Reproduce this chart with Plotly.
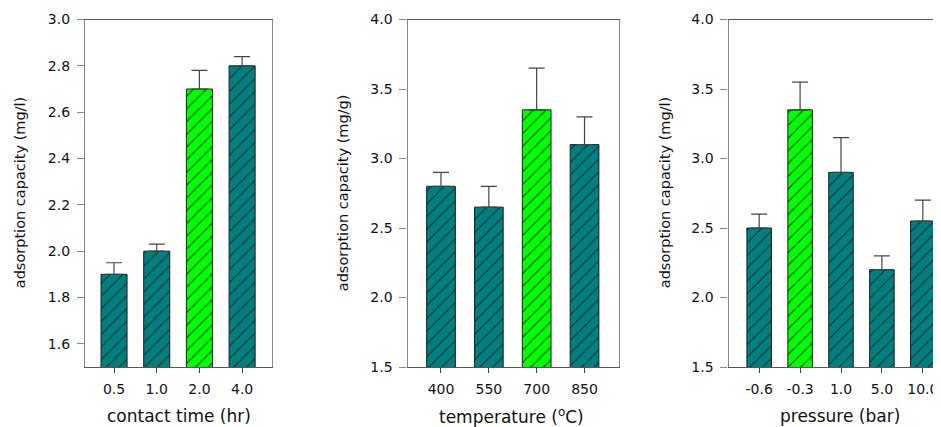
import plotly.graph_objects as go

# ---- data ----
time_labels = ["0.5", "1.0", "2.0", "4.0"]
time_values = [1.90, 2.00, 2.70, 2.80]
time_errors = [0.05, 0.03, 0.08, 0.04]
time_colors = ["#008080", "#008080", "#00ff00", "#008080"]

temp_labels = ["400", "550", "700", "850"]
temp_values = [2.80, 2.65, 3.35, 3.10]
temp_errors = [0.10, 0.15, 0.30, 0.20]
temp_colors = ["#008080", "#008080", "#00ff00", "#008080"]

pres_labels = ["-0.6", "-0.3", "1.0", "5.0", "10.0"]
pres_values = [2.50, 3.35, 2.90, 2.20, 2.55]
pres_errors = [0.10, 0.20, 0.25, 0.10, 0.15]
pres_colors = ["#008080", "#00ff00", "#008080", "#008080", "#008080"]

y1_ticks = [1.6, 1.8, 2.0, 2.2, 2.4, 2.6, 2.8, 3.0]
y23_ticks = [1.5, 2.0, 2.5, 3.0, 3.5, 4.0]

W, H = 941, 427
OFF = 8  # page body margin offset
FONT = "DejaVu Sans"

def px_x(v):
    return (v - OFF) / W

def px_y(v):
    return (H - (v - OFF)) / H

ydom = [px_y(367), px_y(19.5)]

fig = go.Figure()

def add_bars(labels, values, errors, colors, xa, ya, width):
    for lab, val, err, col in zip(labels, values, errors, colors):
        fig.add_trace(go.Bar(
            x=[lab], y=[val], xaxis=xa, yaxis=ya, width=width,
            marker=dict(color=col, line=dict(color="#1e1e1e", width=1),
                        pattern=dict(shape="/", fillmode="replace", bgcolor=col,
                                     fgcolor="#1a1a1a", fgopacity=0.8,
                                     size=9, solidity=0.13)),
            error_y=dict(type="data", array=[err], arrayminus=[0],
                         symmetric=False, color="#444444", thickness=1.2, width=8),
            showlegend=False,
        ))

add_bars(time_labels, time_values, time_errors, time_colors, "x", "y", 0.61)
add_bars(temp_labels, temp_values, temp_errors, temp_colors, "x2", "y2", 0.6)
add_bars(pres_labels, pres_values, pres_errors, pres_colors, "x3", "y3", 0.6)

tickfont = dict(family=FONT, size=14, color="#111111")

xcommon = dict(type="category", showgrid=False, zeroline=False, showline=True,
               linecolor="#555555", linewidth=1, ticks="outside", ticklen=5,
               tickcolor="#444444", tickfont=tickfont, ticklabelstandoff=4,
               mirror=True, fixedrange=True, automargin=False,
               categoryorder="array")
ycommon = dict(showgrid=False, zeroline=False, showline=True, linecolor="#888888",
               linewidth=1.2, ticks="outside", ticklen=7, tickcolor="#888888",
               tickfont=tickfont, tickformat=".1f", ticklabelstandoff=4,
               domain=ydom, fixedrange=True, automargin=False)

fig.update_layout(
    width=W, height=H, margin=dict(l=0, r=0, t=0, b=0, pad=0),
    plot_bgcolor="white", paper_bgcolor="white",
    font=dict(family=FONT, color="#111111"),
    barmode="overlay", showlegend=False,
    xaxis=dict(xcommon, domain=[px_x(85), px_x(272)], range=[-0.68, 3.7],
               categoryarray=time_labels, anchor="y"),
    yaxis=dict(ycommon, range=[1.5, 3.0], tickvals=y1_ticks, mirror=True, anchor="x"),
    xaxis2=dict(xcommon, domain=[px_x(407.5), px_x(618.5)], range=[-0.7, 3.71],
                categoryarray=temp_labels, anchor="y2"),
    yaxis2=dict(ycommon, range=[1.5, 4.0], tickvals=y23_ticks, mirror=True, anchor="x2"),
    xaxis3=dict(xcommon, domain=[px_x(728.5), 1.0], range=[-0.75, 4.64],
                categoryarray=pres_labels, anchor="y3"),
    yaxis3=dict(ycommon, range=[1.5, 4.0], tickvals=y23_ticks, mirror=False, anchor="x3"),
)

ymid = (ydom[0] + ydom[1]) / 2
ytitles = [(20, "adsorption capacity (mg/l)"),
           (343, "adsorption capacity (mg/g)"),
           (665, "adsorption capacity (mg/l)")]
for xp, txt in ytitles:
    fig.add_annotation(text=txt, xref="paper", yref="paper", x=px_x(xp), y=ymid,
                       xanchor="center", yanchor="middle", textangle=-90,
                       showarrow=False, font=dict(family=FONT, size=14.5, color="#111111"))

xt_y = px_y(416)
xtitles = [(178.5, "contact time (hr)"),
           (512, "temperature (<sup>o</sup>C)"),
           (840, "pressure (bar)")]
for xp, txt in xtitles:
    fig.add_annotation(text=txt, xref="paper", yref="paper", x=px_x(xp), y=xt_y,
                       xanchor="center", yanchor="middle", showarrow=False,
                       font=dict(family=FONT, size=17, color="#111111"))

fig.write_html("out.html")
